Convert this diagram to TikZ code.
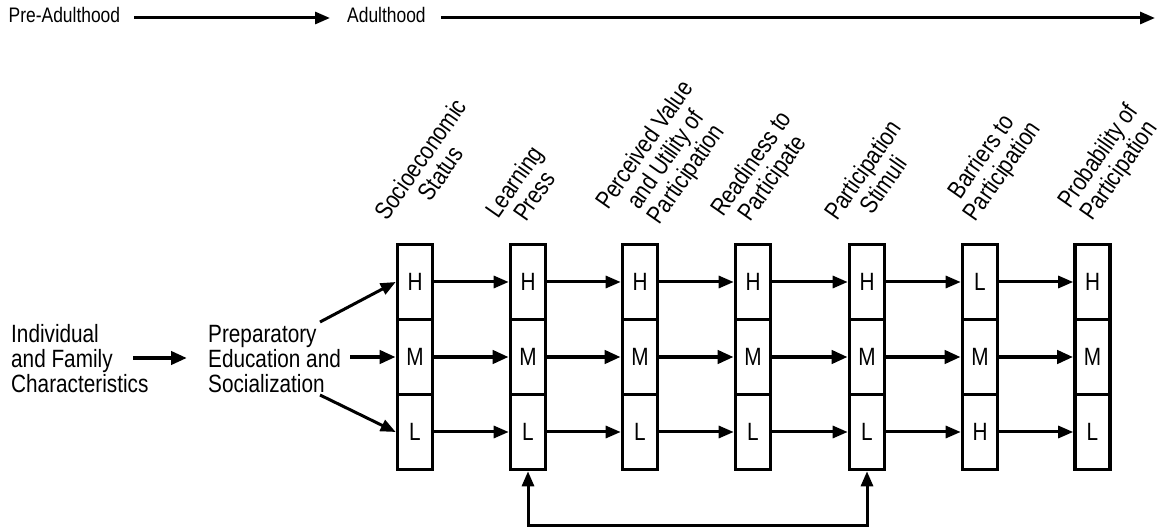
\documentclass[tikz,border=0pt]{standalone}
\usepackage{fontspec}
\setmainfont[FakeStretch=0.83]{Liberation Sans}
\usetikzlibrary{arrows.meta}
\begin{document}
\begin{tikzpicture}[x=1pt,y=-1pt,
  cell/.style={draw, line width=3.6pt, minimum width=35pt, minimum height=75pt, inner sep=0pt, font=\fontsize{25}{25}\selectfont},
  arr/.style={line width=3pt, -{Triangle[length=15pt,width=12pt]}},
  arrM/.style={line width=4.2pt, -{Triangle[length=16pt,width=13pt]}},
  fback/.style={line width=3pt, {Triangle[length=15pt,width=12pt]}-{Triangle[length=15pt,width=12pt]}},
  lbl/.style={rotate=55, anchor=base west, inner sep=0pt, font=\fontsize{25}{24}\selectfont},
  side/.style={anchor=base west, inner sep=0pt, font=\fontsize{25}{22.5}\selectfont},
  toptext/.style={anchor=base west, inner sep=0pt, text height=15pt, text depth=5pt, font=\fontsize{21}{21}\selectfont}]
\useasboundingbox (0,0) rectangle (1163,529);
\fill[white] (0,0) rectangle (1163,529);

% top timeline
\node[toptext] (pre) at (8.5,23) {Pre-Adulthood};
\node[toptext] (adult) at (347,23) {Adulthood};
\coordinate (tend) at (1155,18);
\draw[arr] ([xshift=14pt]pre.east) -- ([xshift=-17pt]adult.west);
\draw[arr] ([xshift=15pt]adult.east) -- (tend);

% left texts
\node[side] (ind) at (11,343) {\begin{tabular}[t]{@{}l@{}}Individual\\and Family\\Characteristics\end{tabular}};
\node[side] (prep) at (208,343) {\begin{tabular}[t]{@{}l@{}}Preparatory\\Education and\\Socialization\end{tabular}};

% boxes
\foreach \i/\x/\ta/\tc in {1/415/H/L, 2/528/H/L, 3/640/H/L, 4/753/H/L, 5/867/H/L, 6/980/L/H, 7/1092.5/H/L} {
  \node[cell] (c\i-a) at (\x,282) {\ta};
  \node[cell] (c\i-b) at (\x,357) {M};
  \node[cell] (c\i-c) at (\x,432) {\tc};
}

% column labels
\node[lbl] (l1) at (387,222) {\begin{tabular}[t]{@{}c@{}}Socioeconomic\\Status\end{tabular}};
\node[lbl] (l2) at (498,220) {\begin{tabular}[t]{@{}c@{}}Learning\\Press\end{tabular}};
\node[lbl] (l3) at (608,211) {\begin{tabular}[t]{@{}c@{}}Perceived Value\\and Utility of\\Participation\end{tabular}};
\node[lbl] (l4) at (723,218) {\begin{tabular}[t]{@{}c@{}}Readiness to\\Participate\end{tabular}};
\node[lbl] (l5) at (837,222) {\begin{tabular}[t]{@{}c@{}}Participation\\Stimuli\end{tabular}};
\node[lbl] (l6) at (955,208) {\begin{tabular}[t]{@{}c@{}}Barriers to\\Participation\end{tabular}};
\node[lbl] (l7) at (1070,210) {\begin{tabular}[t]{@{}c@{}}Probability of\\Participation\end{tabular}};

% arrows between boxes
\foreach \i/\j in {1/2,2/3,3/4,4/5,5/6,6/7} {
  \draw[arr] (c\i-a) -- (c\j-a);
  \draw[arrM] (c\i-b) -- (c\j-b);
  \draw[arr] (c\i-c) -- (c\j-c);
}

% left arrows
\coordinate (i1) at (133,358);
\coordinate (i2) at (187,358);
\draw[arrM] (i1) -- (i2);
\coordinate (pH) at (320,322);
\coordinate (pM) at (350,357);
\coordinate (pL) at (320,395);
\draw[arr] (pH) -- (c1-a.west);
\draw[arrM] (pM) -- (c1-b.west);
\draw[arr] (pL) -- (c1-c.west);

% feedback loop
\coordinate (fb) at (700,525);
\draw[fback] (c2-c.south) |- (fb) -| (c5-c.south);
\end{tikzpicture}
\end{document}
